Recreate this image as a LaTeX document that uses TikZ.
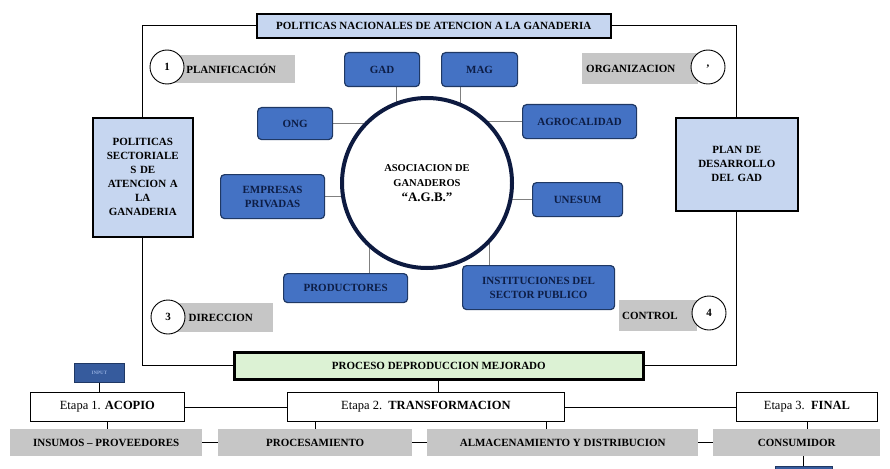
\documentclass[tikz,border=0pt]{standalone}
\usepackage{fontspec}
\setmainfont{Liberation Serif}
\usetikzlibrary{positioning, backgrounds}

\definecolor{agbblue}{HTML}{4472C4}
\definecolor{agbedge}{HTML}{1F3864}
\definecolor{agbtext}{HTML}{0D1D45}
\definecolor{agbnavy}{HTML}{0D1A40}
\definecolor{paleblue}{HTML}{C6D6F0}
\definecolor{palegreen}{HTML}{DCF2D4}

\begin{document}
\begin{tikzpicture}[
  x=1pt, y=-1pt,
  every node/.style={align=center, inner sep=0pt, anchor=north west},
  lbl/.style={font=\bfseries\fontsize{11}{14}\selectfont},
  bluebox/.style={lbl, draw=agbedge, fill=agbblue, line width=1.2pt, rounded corners=4pt, text=agbtext},
  greybox/.style={lbl, fill=gray!45, text=black},
  lightbox/.style={lbl, draw=black, fill=paleblue, line width=1.6pt, text=black},
  stagebox/.style={draw=black, fill=white, line width=0.8pt, font=\fontsize{12.5}{14}\selectfont},
  numdot/.style={circle, draw=black, fill=white, line width=0.9pt, minimum size=34pt, anchor=center, font=\bfseries\fontsize{11}{13}\selectfont},
  spoke/.style={draw=gray, line width=0.8pt},
  link/.style={draw=black, line width=0.8pt}]

\useasboundingbox (0,0) rectangle (890,468);

%Title and side boxes
\node[lightbox, minimum width=354pt, minimum height=24pt] (nacional) at (256,13) {POLITICAS NACIONALES DE ATENCION A LA GANADERIA};
\node[lightbox, minimum width=100pt, minimum height=119pt, text width=96pt] (sectorial) at (92,117) {POLITICAS\\SECTORIALE\\S DE\\ATENCION A\\LA\\GANADERIA};
\node[lightbox, minimum width=122pt, minimum height=93pt, text width=110pt] (plangad) at (675,117) {PLAN DE\\DESARROLLO\\DEL GAD\\[14pt]};
\node[lightbox, fill=palegreen, line width=2.6pt, minimum width=409pt, minimum height=27pt] (proceso) at (233,351) {PROCESO DEPRODUCCION MEJORADO};

%Frame
\draw[link] (nacional.west) -| (sectorial.north);
\draw[link] (sectorial.south) |- (proceso.west);
\draw[link] (nacional.east) -| (plangad.north);
\draw[link] (plangad.south) |- (proceso.east);

%Functions
\node[greybox, minimum width=128pt, minimum height=28pt, text width=108pt] (planif) at (167,55) {PLANIFICACIÓN};
\node[numdot] (n1) at (167,67) {1};
\node[greybox, minimum width=116pt, minimum height=31pt, text width=108pt, align=left] (organiz) at (582,53) {ORGANIZACION};
\node[numdot] (n2) at (708,67) {,};
\node[greybox, minimum width=105pt, minimum height=29pt, text width=82pt] (direcc) at (168,303) {DIRECCION};
\node[numdot] (n3) at (168,317) {3};
\node[greybox, minimum width=78pt, minimum height=31pt, text width=72pt, align=left] (control) at (619,300) {CONTROL};
\node[numdot] (n4) at (709,313) {4};

%Association and its partners
\node[circle, draw=agbnavy, fill=white, line width=4pt, minimum size=170pt, anchor=center, font=\fontsize{10.5}{15}\selectfont] (agb) at (427,183)
  {\textbf{ASOCIACION DE}\\\textbf{GANADEROS}\\{\bfseries\fontsize{13}{15}\selectfont “A.G.B.”}};
\node[bluebox, minimum width=75pt, minimum height=34pt] (gad) at (344,52) {GAD};
\node[bluebox, minimum width=76pt, minimum height=34pt] (mag) at (441,52) {MAG};
\node[bluebox, minimum width=75pt, minimum height=32pt] (ong) at (257,107) {ONG};
\node[bluebox, minimum width=114pt, minimum height=34pt] (agro) at (522,104) {AGROCALIDAD};
\node[bluebox, minimum width=104pt, minimum height=44pt] (empresas) at (220,174) {EMPRESAS\\PRIVADAS};
\node[bluebox, minimum width=90pt, minimum height=34pt] (unesum) at (532,182) {UNESUM};
\node[bluebox, minimum width=124pt, minimum height=29pt] (product) at (283,273) {PRODUCTORES};
\node[bluebox, minimum width=152pt, minimum height=44pt] (instit) at (462,265) {INSTITUCIONES DEL\\SECTOR PUBLICO};

\begin{scope}[on background layer]
\draw[spoke] ([xshift=14pt]gad.south) -- ([xshift=14pt]gad.south |- agb.center);
\draw[spoke] ([xshift=-19pt]mag.south) -- ([xshift=-19pt]mag.south |- agb.center);
\draw[spoke] (ong.east) -- (ong.east -| agb.center);
\draw[spoke] (agro.west) -- (agro.west -| agb.center);
\draw[spoke] (empresas.east) -- (empresas.east -| agb.center);
\draw[spoke] (unesum.west) -- (unesum.west -| agb.center);
\draw[spoke] ([xshift=24pt]product.north) -- ([xshift=24pt]product.north |- agb.center);
\draw[spoke] ([xshift=-49pt]instit.north) -- ([xshift=-49pt]instit.north |- agb.center);
\end{scope}

%Production chain
\node[draw=agbedge, fill=agbblue!80!black, line width=0.8pt, minimum width=50pt, minimum height=19pt, text=agbblue!60, font=\bfseries\fontsize{5}{6}\selectfont] (input) at (74,363) {INPUT};
\node[stagebox, minimum width=154pt, minimum height=29pt] (etapa1) at (30,392) {Etapa 1. \textbf{ACOPIO}};
\node[stagebox, minimum width=277pt, minimum height=29pt] (etapa2) at (287,392) {Etapa 2.\ \ \textbf{TRANSFORMACION}};
\node[stagebox, minimum width=141pt, minimum height=29pt] (etapa3) at (736,392) {Etapa 3.\ \ \textbf{FINAL}};
\node[greybox, minimum width=192pt, minimum height=27pt] (insumos) at (10,429) {INSUMOS – PROVEEDORES};
\node[greybox, minimum width=194pt, minimum height=27pt] (procesa) at (218,429) {PROCESAMIENTO};
\node[greybox, minimum width=271pt, minimum height=27pt] (almacen) at (427,429) {ALMACENAMIENTO Y DISTRIBUCION};
\node[greybox, minimum width=167pt, minimum height=27pt] (consum) at (713,429) {CONSUMIDOR};
\node[draw=agbedge, fill=agbblue!80!black, minimum width=57pt, minimum height=8pt] (salida) at (775,466) {};

\draw[link] (input.south) -- (input.south |- etapa1.north);
\draw[link] (etapa1) -- (etapa2);
\draw[link] (etapa2) -- (etapa3);
\draw[link] (proceso.south) -- (proceso.south |- etapa2.north);
\draw[link] (etapa1.south) -- (etapa1.south |- insumos.north);
\draw[link] (procesa.north |- etapa2.south) -- (procesa.north);
\draw[link] ([xshift=-16pt]almacen.north |- etapa2.south) -- ([xshift=-16pt]almacen.north);
\draw[link] (etapa3.south) -- (etapa3.south |- consum.north);
\draw[link] (insumos) -- (procesa);
\draw[link] (procesa) -- (almacen);
\draw[link] (almacen) -- (consum);
\draw[link] (consum.south -| salida.north) -- (salida.north);

\end{tikzpicture}
\end{document}
